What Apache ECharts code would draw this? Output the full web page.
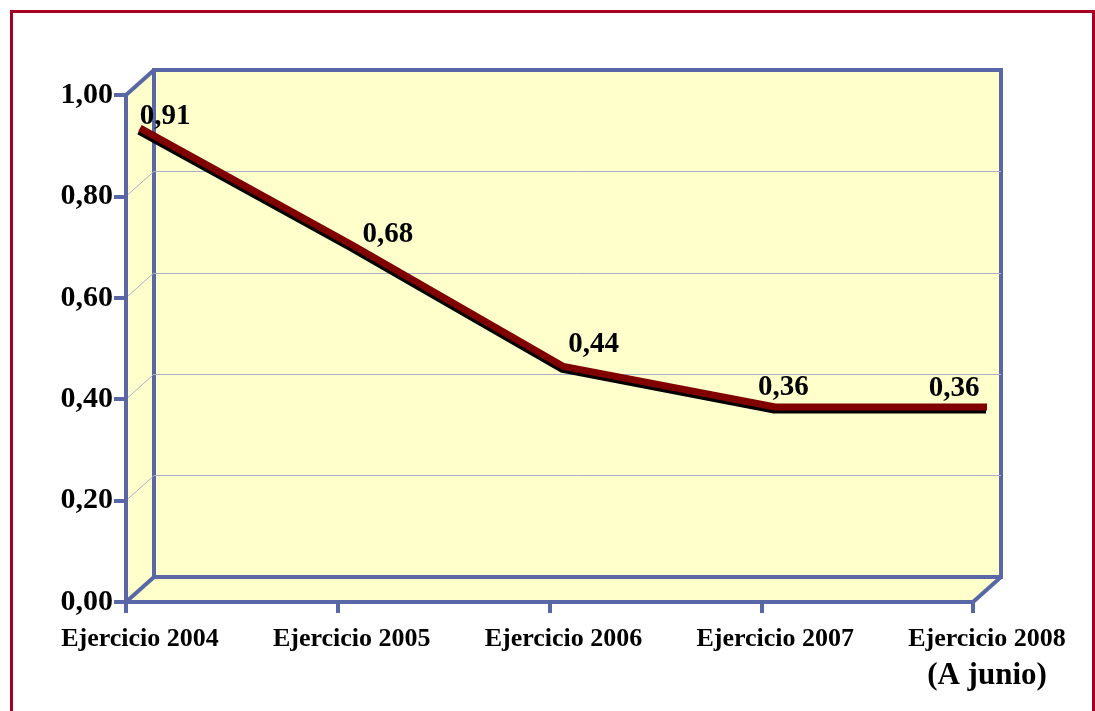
<!DOCTYPE html>
<html>
<head>
<meta charset="utf-8">
<script src="https://cdn.jsdelivr.net/npm/echarts@6/dist/echarts.min.js"></script>
<style>
  html, body { margin: 0; padding: 0; background: #ffffff; }
  #frame { position: absolute; left: 10px; top: 10px; width: 1079px; height: 720px;
           border: 3px solid #a50021; border-bottom: none; }
  #chart { position: absolute; left: 0; top: 0; width: 1095px; height: 711px; }
</style>
</head>
<body>
<div id="frame"></div>
<div id="chart"></div>
<script>
var categories = ['Ejercicio 2004', 'Ejercicio 2005', 'Ejercicio 2006', 'Ejercicio 2007', 'Ejercicio 2008'];
var values = [0.91, 0.68, 0.44, 0.36, 0.36];
var labelShift = [[25, 3], [36, 5], [30, -7], [8, -4], [-33, -3]];
var yTicks = [0, 0.2, 0.4, 0.6, 0.8, 1.0];

var blue = '#5a67a6';
var wall = '#ffffcc';
var grey = '#aab0c6';
var font = 'Liberation Serif';

var chartDom = document.getElementById('chart');
var myChart = echarts.init(chartDom);

var seriesData = [];
for (var i = 0; i < values.length; i++) {
  seriesData.push({
    value: values[i],
    label: { offset: labelShift[i] }
  });
}

var option = {
  animation: false,
  grid: [
    // back wall
    { left: 154, top: 70, right: 94, bottom: 134, show: true, backgroundColor: wall,
      borderColor: blue, borderWidth: 4, z: 1 },
    // front axes
    { left: 126, top: 95, right: 122, bottom: 109, z: 3 },
    // data plane (middle depth)
    { left: 140, top: 82.5, right: 108, bottom: 121.5, z: 4 }
  ],
  xAxis: [
    { gridIndex: 0, type: 'category', data: categories, boundaryGap: false, show: false },
    { gridIndex: 1, type: 'category', data: categories, boundaryGap: false, z: 3,
      axisLine: { lineStyle: { color: blue, width: 4 } },
      axisTick: { length: 11, lineStyle: { color: blue, width: 4 } },
      axisLabel: { show: false }, splitLine: { show: false } },
    { gridIndex: 2, type: 'category', data: categories, boundaryGap: false,
      axisLine: { show: false }, axisTick: { show: false },
      axisLabel: {
        margin: 37, interval: 0,
        formatter: function (v) {
          if (v === 'Ejercicio 2008') return '{a|' + v + '}\n{b|(A junio)}';
          return '{a|' + v + '}';
        },
        rich: {
          a: { fontFamily: font, fontWeight: 'bold', fontSize: 26, lineHeight: 26, color: '#000' },
          b: { fontFamily: font, fontWeight: 'bold', fontSize: 31, lineHeight: 47, color: '#000' }
        }
      } }
  ],
  yAxis: [
    { gridIndex: 0, type: 'value', min: 0, max: 1, interval: 0.2, z: 2,
      axisLine: { show: false }, axisTick: { show: false }, axisLabel: { show: false },
      splitLine: { show: true, showMinLine: false, showMaxLine: false,
                   lineStyle: { color: grey, width: 1 } } },
    { gridIndex: 1, type: 'value', min: 0, max: 1, interval: 0.2, z: 3,
      axisLine: { show: true, lineStyle: { color: blue, width: 4 } },
      axisTick: { show: true, length: 12, lineStyle: { color: blue, width: 4 } },
      splitLine: { show: false },
      axisLabel: {
        margin: 13, padding: [16, 0, 0, 0],
        fontFamily: font, fontWeight: 'bold', fontSize: 30, color: '#000',
        formatter: function (v) { return v.toFixed(2).replace('.', ','); }
      } },
    { gridIndex: 2, type: 'value', min: 0, max: 1, show: false }
  ],
  series: [
    {
      type: 'line',
      xAxisIndex: 2,
      yAxisIndex: 2,
      data: seriesData,
      symbol: 'circle',
      symbolSize: 1,
      showSymbol: true,
      itemStyle: { color: 'rgba(0,0,0,0)' },
      z: 5,
      lineStyle: {
        color: '#800000', width: 7,
        shadowColor: '#000000', shadowBlur: 0, shadowOffsetX: -1, shadowOffsetY: 3
      },
      label: {
        show: true, position: 'top', distance: 0,
        fontFamily: font, fontWeight: 'bold', fontSize: 29, color: '#000',
        formatter: function (p) { return p.value.toFixed(2).replace('.', ','); }
      }
    }
  ]
};

myChart.setOption(option);

// side wall, floor and depth edges, placed from the two axis systems
function px(g, xi, y) {
  return myChart.convertToPixel({ xAxisIndex: g, yAxisIndex: g }, [xi, y]);
}
var last = categories.length - 1;
var fTop = px(1, 0, 1), fBot = px(1, 0, 0), fRight = px(1, last, 0);
var bTop = px(0, 0, 1), bBot = px(0, 0, 0), bRight = px(0, last, 0);

var graphics = [
  { type: 'polygon', z: 0, shape: { points: [fTop, bTop, bBot, fBot] }, style: { fill: wall } },
  { type: 'polygon', z: 0, shape: { points: [fBot, bBot, bRight, fRight] }, style: { fill: wall } }
];
for (var k = 1; k < yTicks.length - 1; k++) {
  graphics.push({ type: 'line', z: 2,
    shape: { x1: px(1, 0, yTicks[k])[0], y1: px(1, 0, yTicks[k])[1],
             x2: px(0, 0, yTicks[k])[0], y2: px(0, 0, yTicks[k])[1] },
    style: { stroke: grey, lineWidth: 1 } });
}
[[fTop, bTop], [fBot, bBot], [fRight, bRight]].forEach(function (e) {
  graphics.push({ type: 'line', z: 3,
    shape: { x1: e[0][0], y1: e[0][1], x2: e[1][0], y2: e[1][1] },
    style: { stroke: blue, lineWidth: 4 } });
});

myChart.setOption({ graphic: graphics });
</script>
</body>
</html>
